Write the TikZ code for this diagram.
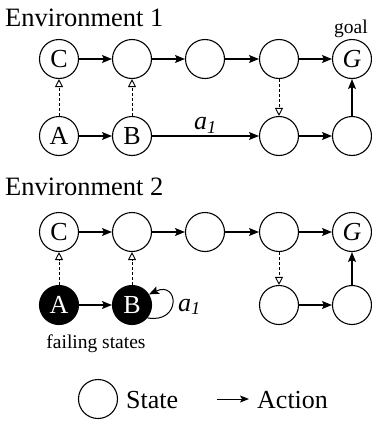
\documentclass[tikz,border=0pt]{standalone}
\usepackage{fontspec}
\setmainfont{Liberation Serif}
\usetikzlibrary{arrows.meta}
\tikzset{
  state/.style={circle, draw, line width=1.1pt, minimum size=39pt, inner sep=0pt, font=\fontsize{26}{28}\selectfont},
  fail/.style={state, fill=black, text=white},
  act/.style={line width=1.1pt, -{Stealth[length=10pt,width=8pt,inset=2pt]}},
  trans/.style={line width=1pt, dash pattern=on 3pt off 2pt, -{Triangle[open,length=8pt,width=8pt,line width=0.9pt]}},
  title/.style={anchor=base west, inner sep=0pt, font=\fontsize{26.5}{28}\selectfont},
  small/.style={inner sep=0pt, font=\fontsize{19.5}{21}\selectfont},
  lbl/.style={font=\fontsize{26}{28}\selectfont},
}
\begin{document}
\begin{tikzpicture}[x=1pt, y=-1pt]
\useasboundingbox (0,0) rectangle (372,421);

% ---- Environment 1 ----
\node[title] (t1) at (5,26) {Environment 1};
\node[state] (c1) at (59,59) {C};
\node[state] (u12) at (132,59) {};
\node[state] (u13) at (205,59) {};
\node[state] (u14) at (279,59) {};
\node[state] (g1) at (352,59) {\textit{G}};
\node[small, anchor=base] (goal) at (351,33) {goal};
\node[state] (a1) at (59,136) {A};
\node[state] (b1) at (132,136) {B};
\node[state] (d14) at (279,136) {};
\node[state] (d15) at (352,136) {};

\draw[act] (c1) -- (u12);
\draw[act] (u12) -- (u13);
\draw[act] (u13) -- (u14);
\draw[act] (u14) -- (g1);
\draw[act] (a1) -- (b1);
\draw[act] (b1) -- node[above, inner sep=2pt, lbl] (lab1) {\textit{a\textsubscript{1}}} (d14);
\draw[act] (d14) -- (d15);
\draw[act] (d15) -- (g1);
\draw[trans] (a1) -- (c1);
\draw[trans] (b1) -- (u12);
\draw[trans] (u14) -- (d14);

% ---- Environment 2 ----
\node[title] (t2) at (5,195) {Environment 2};
\node[state] (c2) at (59,232) {C};
\node[state] (u22) at (132,232) {};
\node[state] (u23) at (205,232) {};
\node[state] (u24) at (279,232) {};
\node[state] (g2) at (352,232) {\textit{G}};
\node[fail] (a2) at (59,305) {A};
\node[fail] (b2) at (132,305) {B};
\node[state] (d24) at (279,305) {};
\node[state] (d25) at (352,305) {};
\node[small, anchor=base] (failing) at (96,348) {failing states};

\draw[act] (c2) -- (u22);
\draw[act] (u22) -- (u23);
\draw[act] (u23) -- (u24);
\draw[act] (u24) -- (g2);
\draw[act] (a2) -- (b2);
\draw[act, line width=1pt] (b2.-40) .. controls +(34,6) and +(30,-14) .. (b2.32);
\node[anchor=west, inner sep=0pt, lbl] (lab2) at (178,307) {\textit{a\textsubscript{1}}};
\draw[act] (d24) -- (d25);
\draw[act] (d25) -- (g2);
\draw[trans] (a2) -- (c2);
\draw[trans] (b2) -- (u22);
\draw[trans] (u24) -- (d24);

% ---- legend ----
\node[state] (lstate) at (98,399) {};
\node[anchor=base west, inner sep=0pt, font=\fontsize{26}{28}\selectfont] (lstatet) at (126,408) {State};
\coordinate (la0) at (217,399);
\coordinate (la1) at (249,399);
\draw[act, line width=1pt, -{Stealth[length=9pt,width=7pt,inset=2pt]}] (la0) -- (la1);
\node[anchor=base west, inner sep=0pt, font=\fontsize{26}{28}\selectfont] (lactt) at (257,408) {Action};
\end{tikzpicture}
\end{document}
